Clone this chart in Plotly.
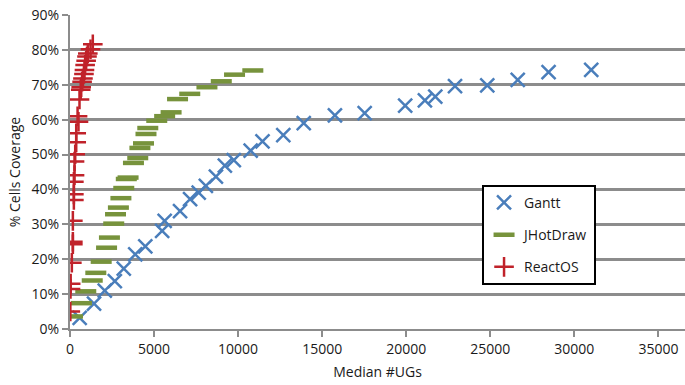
import plotly.graph_objects as go

gantt_x = [576, 1430, 2068, 2665, 3198, 3880, 4478, 5480, 5630, 6546, 7143, 7655, 8081, 8678,
           9211, 9744, 10746, 11450, 12687, 13902, 15757, 17527, 19936, 21109, 21727, 22900,
           24819, 26631, 28465, 31002]
gantt_y = [3.2, 7.3, 11.0, 13.7, 17.3, 21.4, 23.7, 28.1, 31.0, 33.8, 37.2, 39.1, 41.0, 43.7,
           46.8, 48.4, 51.1, 53.8, 55.6, 59.0, 61.2, 61.9, 64.0, 65.5, 66.6, 69.6,
           69.8, 71.4, 73.6, 74.3]

jhot_x = [149, 682, 938, 1322, 1535, 1855, 2175, 2345, 2601, 2708, 2879, 3028, 3198, 3348,
          3454, 3774, 4030, 4158, 4371, 4520, 4627, 5160, 5630, 6013, 6397, 7122, 8145,
          8998, 9787, 10874]
jhot_y = [3.6, 7.4, 10.8, 13.9, 16.1, 19.3, 23.3, 26.2, 30.2, 32.9, 34.8, 37.5, 40.4, 43.0,
          43.4, 47.6, 49.0, 51.9, 53.2, 55.9, 57.6, 59.7, 61.0, 62.1, 65.9, 67.4, 69.3,
          71.0, 72.9, 74.1]

react_x = [20, 30, 40, 110, 170, 170, 170, 230, 230, 230, 270, 270, 310, 370, 370, 450, 505,
           565, 640, 666, 720, 770, 830, 860, 900, 960, 1010, 1060, 1220, 1357]
react_y = [5.0, 11.5, 13.0, 19.0, 24.3, 25.0, 31.0, 37.0, 38.6, 42.2, 44.1, 48.0, 50.1, 53.5,
           56.1, 61.0, 59.4, 65.8, 68.6, 69.3, 70.9, 71.8, 73.1, 74.2, 75.7, 76.9, 78.1,
           79.0, 80.2, 81.6]

x_ticks = [0, 5000, 10000, 15000, 20000, 25000, 30000, 35000]
y_ticks = [0, 10, 20, 30, 40, 50, 60, 70, 80, 90]

FONT = "Open Sans"
fig = go.Figure()
fig.add_trace(go.Scatter(x=gantt_x, y=gantt_y, mode="markers", name="Gantt",
                         legendgroup="a",
                         marker=dict(symbol="x-thin", size=14, color="#4A7EBB",
                                     line=dict(width=2.5, color="#4A7EBB"))))
fig.add_trace(go.Scatter(x=jhot_x, y=jhot_y, mode="markers", name="JHotDraw",
                         legendgroup="b",
                         marker=dict(symbol="line-ew", size=15, color="#77933C",
                                     line=dict(width=4.5, color="#77933C"))))
fig.add_trace(go.Scatter(x=react_x, y=react_y, mode="markers", name="ReactOS",
                         legendgroup="c",
                         marker=dict(symbol="cross-thin", size=14, color="#C0222A",
                                     line=dict(width=2.5, color="#C0222A"))))

fig.update_layout(
    width=685, height=385,
    margin=dict(l=70, r=0, t=15, b=56),
    plot_bgcolor="white", paper_bgcolor="white",
    font=dict(family=FONT, size=14, color="#1a1a1a"),
    showlegend=True,
    legend=dict(x=0.670, y=0.459, xanchor="left", yanchor="top",
                bgcolor="white", bordercolor="black", borderwidth=2,
                font=dict(family=FONT, size=14, color="#1a1a1a"),
                traceorder="grouped", tracegroupgap=11,
                itemwidth=30),
    xaxis=dict(range=[0, 36580], tickvals=x_ticks, ticktext=[str(v) for v in x_ticks],
               showgrid=False, zeroline=False, showline=True, linecolor="#8c8c8c",
               linewidth=2, ticks="outside", ticklen=6, tickcolor="#8c8c8c", tickwidth=2,
               title=dict(text="Median #UGs", font=dict(size=14), standoff=10)),
    yaxis=dict(range=[0, 90], tickvals=y_ticks, ticktext=[f"{v}%" for v in y_ticks],
               showgrid=True, gridcolor="#8c8c8c", gridwidth=2.5, zeroline=False,
               showline=True, linecolor="#8c8c8c", linewidth=2,
               ticks="outside", ticklen=6, tickcolor="#8c8c8c", tickwidth=2,
               title=dict(text="% Cells Coverage", font=dict(size=14), standoff=8)),
)

fig.write_html("out.html")
